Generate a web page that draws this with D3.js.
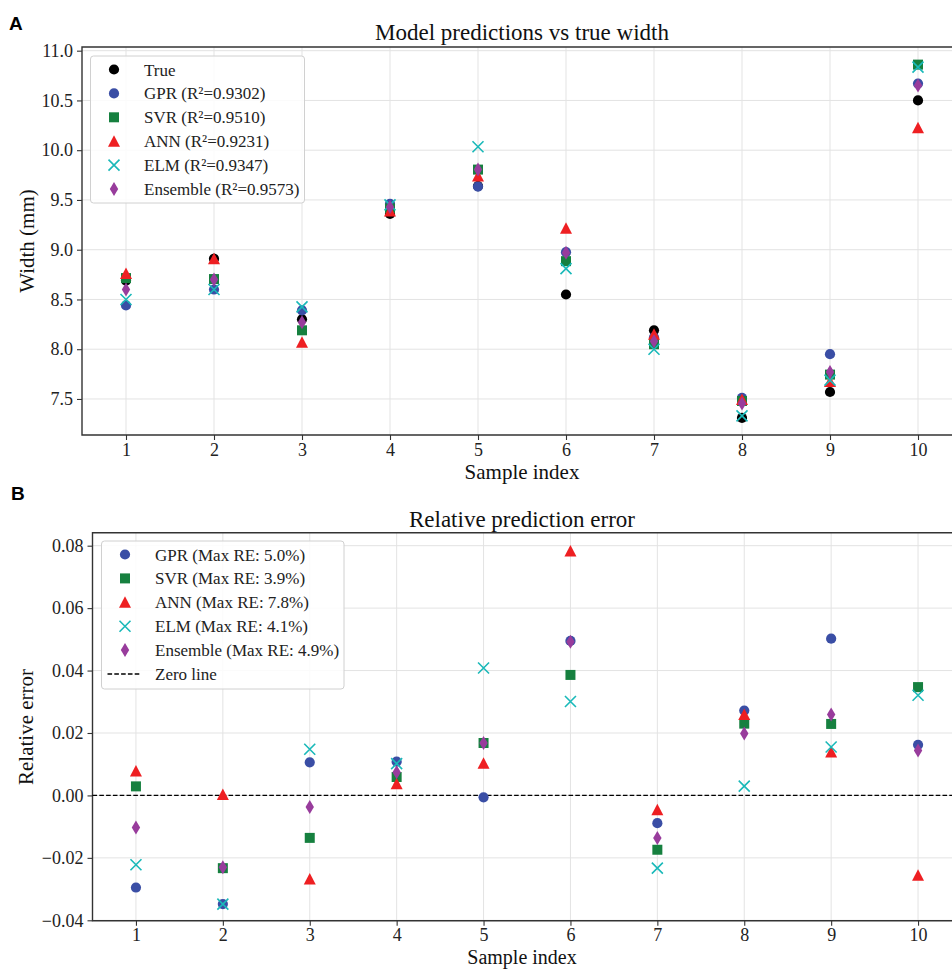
<!DOCTYPE html>
<html>
<head>
<meta charset="utf-8">
<script src="https://cdn.jsdelivr.net/npm/d3@7"></script>
<style>
  body { margin: 0; background: #fff; }
  svg { display: block; overflow: hidden; }
</style>
</head>
<body>
<svg id="chart" width="952" height="969"></svg>
<script>
// sample index along x
var samples = [1, 2, 3, 4, 5, 6, 7, 8, 9, 10];

// panel A: widths (mm)
var trueWidth = [8.69, 8.91, 8.30, 9.36, 9.64, 8.55, 8.19, 7.31, 7.57, 10.50];
var gprPred   = [8.44, 8.60, 8.39, 9.46, 9.635, 8.975, 8.12, 7.51, 7.95, 10.67];
var svrPred   = [8.715, 8.705, 8.19, 9.415, 9.805, 8.885, 8.05, 7.48, 7.745, 10.86];
var annPred   = [8.76, 8.91, 8.07, 9.39, 9.74, 9.215, 8.15, 7.495, 7.675, 10.225];
var elmPred   = [8.50, 8.60, 8.425, 9.45, 10.035, 8.81, 8.00, 7.33, 7.69, 10.835];
var ensPred   = [8.60, 8.70, 8.27, 9.43, 9.805, 8.97, 8.08, 7.455, 7.77, 10.65];

// panel B: relative errors
var gprErr = [-0.0295, -0.0348, 0.0106, 0.0108, -0.0006, 0.0495, -0.0089, 0.0272, 0.0502, 0.0162];
var svrErr = [0.0029, -0.0233, -0.0136, 0.0059, 0.0168, 0.0386, -0.0174, 0.0230, 0.0229, 0.0347];
var annErr = [0.0078, 0.0003, -0.0268, 0.0037, 0.0103, 0.0783, -0.0046, 0.0259, 0.0139, -0.0256];
var elmErr = [-0.0222, -0.0348, 0.0148, 0.0102, 0.0408, 0.0301, -0.0233, 0.0030, 0.0155, 0.0321];
var ensErr = [-0.0103, -0.0230, -0.0037, 0.0074, 0.0168, 0.0492, -0.0136, 0.0198, 0.0259, 0.0144];

var labelsA = ["True", "GPR (R\u00b2=0.9302)", "SVR (R\u00b2=0.9510)", "ANN (R\u00b2=0.9231)", "ELM (R\u00b2=0.9347)", "Ensemble (R\u00b2=0.9573)"];
var labelsB = ["GPR (Max RE: 5.0%)", "SVR (Max RE: 3.9%)", "ANN (Max RE: 7.8%)", "ELM (Max RE: 4.1%)", "Ensemble (Max RE: 4.9%)", "Zero line"];

var ticksA = [7.5, 8.0, 8.5, 9.0, 9.5, 10.0, 10.5, 11.0];
var ticksB = [-0.04, -0.02, 0.00, 0.02, 0.04, 0.06, 0.08];

var colors = { "true": "#000000", gpr: "#3a4ea5", svr: "#16803f", ann: "#ee1f22", elm: "#1ab9b9", ens: "#983c9c" };

var serif = "'Liberation Serif', 'Times New Roman', serif";
var svg = d3.select("#chart");

// marker paths, roughly matplotlib o s ^ x d
function markerPath(kind) {
  if (kind == "circle") return d3.symbol().type(d3.symbolCircle).size(82)();
  if (kind == "square") return "M-5,-5H5V5H-5Z";
  if (kind == "triangle") return "M0,-6L6,5.5H-6Z";
  if (kind == "x") return "M-5.5,-5.5L5.5,5.5M-5.5,5.5L5.5,-5.5";
  if (kind == "diamond") return "M0,-7L4.2,0L0,7L-4.2,0Z";
}

function drawMarkers(g, xs, ys, vals, kind, color) {
  g.selectAll(null)
    .data(vals)
    .enter().append("path")
      .attr("d", markerPath(kind))
      .attr("transform", function(d, i) { return "translate(" + xs(samples[i]) + "," + ys(d) + ")"; })
      .style("fill", kind == "x" ? "none" : color)
      .style("stroke", kind == "x" ? color : "none")
      .style("stroke-width", 1.6);
}

function styleAxis(a) {
  a.select(".domain").remove();
  a.attr("font-family", serif).attr("font-size", 18);
  a.selectAll("text").style("font-family", serif).style("font-size", "18px").style("fill", "#222");
  a.selectAll("line").style("stroke", "#333").style("stroke-width", 1.1);
}

function drawFrame(g, x, y, yTicks, yFmt) {
  var left = x.range()[0], right = x.range()[1];
  var top = y.range()[1], bottom = y.range()[0];

  // grid
  g.selectAll(null).data(samples).enter().append("line")
    .attr("x1", function(d) { return x(d); }).attr("x2", function(d) { return x(d); })
    .attr("y1", top).attr("y2", bottom)
    .style("stroke", "#e3e3e3").style("stroke-width", 1);
  g.selectAll(null).data(yTicks).enter().append("line")
    .attr("x1", left).attr("x2", right)
    .attr("y1", function(d) { return y(d); }).attr("y2", function(d) { return y(d); })
    .style("stroke", "#e3e3e3").style("stroke-width", 1);

  var xAxis = d3.axisBottom(x).tickValues(samples).tickSize(5).tickPadding(3).tickFormat(d3.format("d"));
  var yAxis = d3.axisLeft(y).tickValues(yTicks).tickSize(5).tickPadding(4).tickFormat(yFmt);

  g.append("g").attr("transform", "translate(0," + bottom + ")").call(xAxis).call(styleAxis);
  g.append("g").attr("transform", "translate(" + left + ",0)").call(yAxis).call(styleAxis);

  // spines (right one sits outside the picture)
  g.append("path")
    .attr("d", "M" + right + "," + top + "H" + left + "V" + bottom + "H" + right + "V" + top)
    .style("fill", "none").style("stroke", "#333").style("stroke-width", 1.4);
}

function drawLegend(g, x0, y0, w, h, labels, kinds, cols) {
  g.append("rect")
    .attr("x", x0).attr("y", y0).attr("width", w).attr("height", h)
    .attr("rx", 3)
    .style("fill", "rgba(255,255,255,0.85)").style("stroke", "#d0d0d0").style("stroke-width", 1);
  labels.forEach(function(lab, i) {
    var cy = y0 + 13.5 + i * 23.9;
    if (kinds[i] == "dash") {
      g.append("line").attr("x1", x0 + 6).attr("x2", x0 + 40).attr("y1", cy).attr("y2", cy)
        .style("stroke", "#000").style("stroke-width", 1.4).style("stroke-dasharray", "4.6,2.2");
    } else {
      g.append("path").attr("d", markerPath(kinds[i]))
        .attr("transform", "translate(" + (x0 + 23.5) + "," + cy + ")")
        .style("fill", kinds[i] == "x" ? "none" : cols[i])
        .style("stroke", kinds[i] == "x" ? cols[i] : "none")
        .style("stroke-width", 1.6);
    }
    g.append("text").attr("x", x0 + 53.5).attr("y", cy + 6)
      .style("font-family", serif).style("font-size", "17px").style("fill", "#222")
      .text(lab);
  });
}

function addText(txt, x, y, size, rotate) {
  var t = svg.append("text")
    .attr("text-anchor", "middle")
    .style("font-family", serif).style("font-size", size + "px").style("fill", "#111")
    .text(txt);
  if (rotate) t.attr("transform", "translate(" + x + "," + y + ")rotate(-90)");
  else t.attr("x", x).attr("y", y);
}

// ---------- Panel A ----------
var xA = d3.scaleLinear().domain([0.5, 10.5]).range([82, 962]);
var yA = d3.scaleLinear().domain([7.138, 11.037]).range([435, 47]);
var gA = svg.append("g");
drawFrame(gA, xA, yA, ticksA, d3.format(".1f"));

drawMarkers(gA, xA, yA, trueWidth, "circle", colors["true"]);
drawMarkers(gA, xA, yA, gprPred, "circle", colors.gpr);
drawMarkers(gA, xA, yA, svrPred, "square", colors.svr);
drawMarkers(gA, xA, yA, annPred, "triangle", colors.ann);
drawMarkers(gA, xA, yA, elmPred, "x", colors.elm);
drawMarkers(gA, xA, yA, ensPred, "diamond", colors.ens);

drawLegend(gA, 90.5, 56, 214, 147, labelsA,
  ["circle", "circle", "square", "triangle", "x", "diamond"],
  [colors["true"], colors.gpr, colors.svr, colors.ann, colors.elm, colors.ens]);

addText("Model predictions vs true width", 522, 40, 23);
addText("Sample index", 522, 479, 21);
addText("Width (mm)", 34, 241, 21, true);

// ---------- Panel B ----------
var xB = d3.scaleLinear().domain([0.5, 10.5]).range([92.5, 961.5]);
var yB = d3.scaleLinear().domain([-0.04013, 0.08416]).range([920.7, 532.7]);
var gB = svg.append("g");
drawFrame(gB, xB, yB, ticksB, function(d) { return d3.format(".2f")(d).replace("-", "\u2212"); });

gB.append("line")
  .attr("x1", xB.range()[0]).attr("x2", xB.range()[1])
  .attr("y1", yB(0)).attr("y2", yB(0))
  .style("stroke", "#000").style("stroke-width", 1.4).style("stroke-dasharray", "4.6,2.2");

drawMarkers(gB, xB, yB, gprErr, "circle", colors.gpr);
drawMarkers(gB, xB, yB, svrErr, "square", colors.svr);
drawMarkers(gB, xB, yB, annErr, "triangle", colors.ann);
drawMarkers(gB, xB, yB, elmErr, "x", colors.elm);
drawMarkers(gB, xB, yB, ensErr, "diamond", colors.ens);

drawLegend(gB, 101.5, 541, 242.5, 148, labelsB,
  ["circle", "square", "triangle", "x", "diamond", "dash"],
  [colors.gpr, colors.svr, colors.ann, colors.elm, colors.ens, "#000"]);

addText("Relative prediction error", 522, 527, 23);
addText("Sample index", 522, 964, 20);
addText("Relative error", 33, 727, 21, true);

// panel letters
svg.append("text").attr("x", 9).attr("y", 30)
  .style("font-family", "'Liberation Sans', Arial, sans-serif").style("font-weight", "bold").style("font-size", "19px")
  .text("A");
svg.append("text").attr("x", 11).attr("y", 500)
  .style("font-family", "'Liberation Sans', Arial, sans-serif").style("font-weight", "bold").style("font-size", "19px")
  .text("B");
</script>
</body>
</html>
